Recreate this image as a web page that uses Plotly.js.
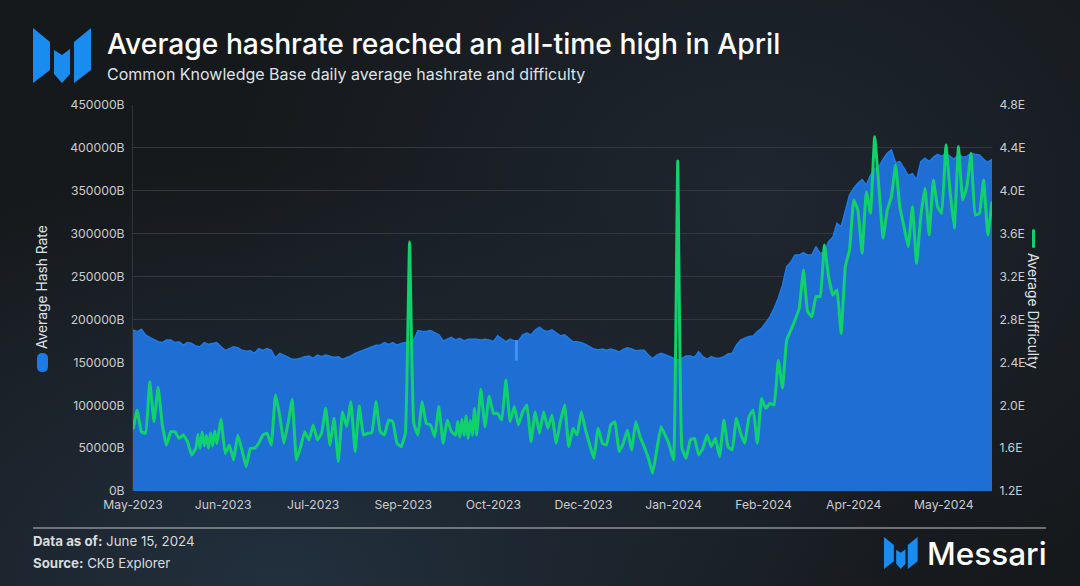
<!DOCTYPE html>
<html><head><meta charset="utf-8">
<script src="https://cdn.plot.ly/plotly-3.0.1.min.js"></script>
<style>
html,body{margin:0;padding:0;width:1080px;height:586px;overflow:hidden;background:
 radial-gradient(ellipse 620px 420px at 26% 100%, #22303e 0%, rgba(34,48,62,0) 100%),
 radial-gradient(ellipse 520px 420px at 70% 35%, #1e2630 0%, rgba(30,38,48,0) 100%),
 #16191c;}
</style></head><body><div id="chart" style="width:1080px;height:586px"></div>
<script>
const startDate = "2023-05-01";
const stepDays = 2;
const tickLabels = ["May-2023","Jun-2023","Jul-2023","Sep-2023","Oct-2023","Dec-2023","Jan-2024","Feb-2024","Apr-2024","May-2024"];
const tickDates = ["2023-05-01","2023-06-13","2023-07-26","2023-09-07","2023-10-20","2023-12-02","2024-01-14","2024-02-26","2024-04-09","2024-05-22"];
const hashRateK = [
187.7,185.7,188.5,181.9,179,176.8,174,173,176,176,173,174,170,173,172,169,168,173,171,172,
173,168,164,166,168,167,164,163,163.5,160.5,166,164,166,164,155,160.5,158.5,156,153.5,153.5,
154.7,156.6,157.4,154.7,158.5,156.6,158.5,157.4,155.8,156.6,153.5,155.8,157.4,160.5,162.4,165,166.3,169,170,170,
173,171,173,170,172,173,174,176,187,186,186,187,184,182,175,177,179,176,178,175,
177,177,177,176,177,176,174,181,178,174,177,175,175,182,184,182,187.7,191,187,186,
188,184,181,182,178,174,174,173,171,168,165.5,164.4,165.5,164,165.5,164,162,165,167,165.5,
163.6,164,164,158.5,154,158.5,160.5,159,156.6,154.7,152.7,154.7,157.4,157.4,155.8,162.4,156.6,153.5,156.6,154.7,
154.7,156.6,159.7,160.5,170,176,178,180,180.7,185.8,189.6,197,203,213,224.6,240,261.5,267,275,275,
278,275,275,285,277,279,290.7,295.7,312,308,327.6,345,353,358.7,363,356.7,368,376,378,386.7,
393.6,397.5,382.8,384,376,368,370,363,384,388,384,389,392.5,390,393.6,390,386.7,393,389,390,
393.6,392.5,391.7,386.7,383,386.7];
const hashDipDate = "2023-10-31";
const hashDipRange = [176, 152];
const difficultyE = [
1.775,1.955,1.753,1.738,2.22,1.847,2.167,1.816,1.629,1.753,1.753,1.691,1.722,1.66,1.536,1.6,1.598,1.62,1.598,1.62,
1.64,1.868,1.551,1.629,1.489,1.722,1.582,1.427,1.598,1.598,1.645,1.722,1.738,1.629,2.095,1.909,1.645,1.831,2.055,1.489,
1.613,1.753,1.676,1.816,1.676,1.738,1.971,1.629,1.878,1.474,1.94,1.8,2.033,1.567,1.993,1.722,1.738,1.744,2.033,1.753,
1.722,1.862,1.847,1.645,1.613,1.738,3.522,1.831,1.722,2.033,1.831,1.816,1.707,1.987,1.645,1.862,1.753,1.72,1.7,1.72,
1.69,1.72,1.72,2.148,1.8,2.086,1.924,1.924,1.862,2.235,1.847,1.987,1.816,1.94,2.002,1.66,1.94,1.738,1.94,1.785,
1.909,1.645,1.847,2.002,1.613,1.785,1.722,1.94,1.769,1.629,1.505,1.785,1.645,1.629,1.816,1.847,1.567,1.645,1.769,1.582,
1.847,1.707,1.613,1.505,1.365,1.582,1.8,1.722,1.629,1.489,4.278,1.6,1.505,1.676,1.691,1.536,1.598,1.722,1.613,1.691,
1.52,1.862,1.613,1.582,1.878,1.738,1.645,1.893,1.956,1.645,2.064,1.971,2.018,2.002,2.42,2.158,2.608,2.7,2.795,2.904,
3.261,2.873,2.826,3.013,3.013,3.494,3.199,3.028,3.075,2.67,3.292,3.448,3.914,3.82,3.417,3.992,3.79,4.505,4.039,3.557,
3.82,3.945,4.24,3.852,3.665,3.479,3.852,3.323,3.759,4.023,3.588,4.1,3.852,3.79,4.427,3.992,3.65,4.412,3.914,4.039,
4.349,3.774,3.79,4.1,3.588,3.899];
const extraDays = [31,33,35,37,39,155,157,159,161,163];
const extraDifficulty = [1.73,1.75,1.72,1.74,1.76,1.85,1.87,1.9,1.86,1.97];

const hashRate = hashRateK.map(v => v * 1000);
const dateAt = day => {
  const d = new Date(startDate + "T00:00:00Z");
  d.setUTCDate(d.getUTCDate() + day);
  return d.toISOString().slice(0, 10);
};
const dates = hashRateK.map((_, i) => dateAt(i * stepDays));
const diffPts = difficultyE.map((v, i) => [i * stepDays, v])
  .concat(extraDays.map((d, i) => [d, extraDifficulty[i]]))
  .sort((a, b) => a[0] - b[0]);

const L = 133, R = 992, T = 105, B = 491;
const fx = x => (x - L) / (R - L);
const fy = y => (B - y) / (B - T);
const poly = pts => "M" + pts.map(p => fx(p[0]).toFixed(5) + "," + fy(p[1]).toFixed(5)).join("L") + "Z";
function logo(x0, y0, s, color) {
  const parts = [
    [[0,0],[17,14],[17,42],[0,55]],
    [[21,22],[29,27],[37,21],[37,46],[29,55],[21,46]],
    [[41,14],[58,0],[58,42],[41,55]]
  ];
  return parts.map(p => ({type:"path", xref:"paper", yref:"paper", line:{width:0}, fillcolor:color, layer:"above",
    path: poly(p.map(q => [x0 + q[0]*s, y0 + q[1]*s]))}));
}
function pill(x0, x1, y0, y1, color) {
  const r = (x1 - x0) / 2, m = (x0 + x1) / 2;
  const P = (x, y) => fx(x).toFixed(5) + "," + fy(y).toFixed(5);
  return {type:"path", xref:"paper", yref:"paper", line:{width:0}, fillcolor:color,
    path:`M${P(x0,y0+r)}Q${P(x0,y0)} ${P(m,y0)}Q${P(x1,y0)} ${P(x1,y0+r)}L${P(x1,y1-r)}Q${P(x1,y1)} ${P(m,y1)}Q${P(x0,y1)} ${P(x0,y1-r)}Z`};
}
const font = "Inter, 'Liberation Sans', sans-serif";
const note = (x, y, text, size, color, extra) => Object.assign({
  xref:"paper", yref:"paper", x:fx(x), y:fy(y), text, showarrow:false, xanchor:"left", yanchor:"middle",
  font:{family:font, size, color}}, extra || {});

const traces = [
 {x:dates, y:hashRate, name:"Average Hash Rate", type:"scatter", mode:"lines", yaxis:"y",
  line:{color:"#1f7be6", width:1.5}, fill:"tozeroy", fillcolor:"#1f6ed4", hoverinfo:"skip"},
 {x:[hashDipDate, hashDipDate], y:hashDipRange.map(v => v * 1000), name:"Hash Rate dip", type:"scatter", mode:"lines", yaxis:"y",
  line:{color:"#3b93f2", width:3}, hoverinfo:"skip"},
 {x:diffPts.map(p => dateAt(p[0])), y:diffPts.map(p => p[1]), name:"Average Difficulty", type:"scatter", mode:"lines", yaxis:"y2",
  line:{color:"#11d16d", width:3, shape:"spline", smoothing:0.3}, hoverinfo:"skip"}
];
const layout = {
  width:1080, height:586, autosize:false, showlegend:false,
  paper_bgcolor:"rgba(0,0,0,0)", plot_bgcolor:"rgba(0,0,0,0)",
  margin:{l:L, r:1080-R, t:T, b:586-B, pad:0},
  font:{family:font, color:"#c9ccd0", size:12},
  title:{text:"Average hashrate reached an all-time high in April", xref:"container", yref:"container",
    x:107/1080, xanchor:"left", y:1-44/586, yanchor:"middle",
    font:{family:font, size:28.25, color:"#ffffff", weight:500}},
  xaxis:{type:"date", range:[dates[0], dates[dates.length-1]], tickvals:tickDates, ticktext:tickLabels, tickangle:0,
    showgrid:false, zeroline:false, showline:false, ticks:"outside", ticklen:2, tickcolor:"rgba(0,0,0,0)",
    tickfont:{family:font, size:12.2, color:"#c9ccd0"}},
  yaxis:{range:[0,450000], dtick:50000, tick0:0, ticksuffix:"B", tickformat:"d",
    gridcolor:"#33383e", gridwidth:1, zeroline:false, showline:true, linecolor:"#30353b", linewidth:1,
    ticks:"outside", ticklen:5, tickcolor:"rgba(0,0,0,0)", tickfont:{family:font, size:12.2, color:"#c9ccd0"}},
  yaxis2:{overlaying:"y", side:"right", range:[1.2,4.8], dtick:0.4, tick0:1.2, tickformat:".1f", ticksuffix:"E",
    showgrid:false, zeroline:false, showline:false, ticks:"outside", ticklen:4, tickcolor:"rgba(0,0,0,0)",
    tickfont:{family:font, size:12.2, color:"#c9ccd0"}},
  shapes:[
    ...logo(33, 28, 1, "#1a8cf0"),
    ...logo(884, 537, 0.58, "#1a8cf0"),
    pill(37, 48, 353, 372, "#1f7ae8"),
    pill(1032, 1035, 229, 248, "#11d16d"),
    {type:"line", xref:"paper", yref:"paper", x0:fx(33), x1:fx(1046), y0:fy(528), y1:fy(528), line:{color:"#8b8f95", width:1.5}}
  ],
  annotations:[
    note(105, 74, "Common Knowledge Base daily average hashrate and difficulty", 16, "#dfe2e5"),
    note(42, 287, "Average Hash Rate", 13.8, "#dfe2e5", {textangle:-90, xanchor:"center"}),
    note(1033, 311, "Average Difficulty", 13.8, "#dfe2e5", {textangle:90, xanchor:"center"}),
    note(31, 541, "<b>Data as of:</b> June 15, 2024", 13.3, "#d8dbde"),
    note(31, 563, "<b>Source:</b> CKB Explorer", 13.3, "#d8dbde"),
    {xref:"paper", yref:"paper", x:fx(1049), y:fy(553), xanchor:"right", yanchor:"middle", showarrow:false,
     text:"Messari", font:{family:font, size:31.5, color:"#ffffff", weight:500}}
  ]
};
Plotly.newPlot("chart", traces, layout, {displayModeBar:false, staticPlot:true});
</script></body></html>
